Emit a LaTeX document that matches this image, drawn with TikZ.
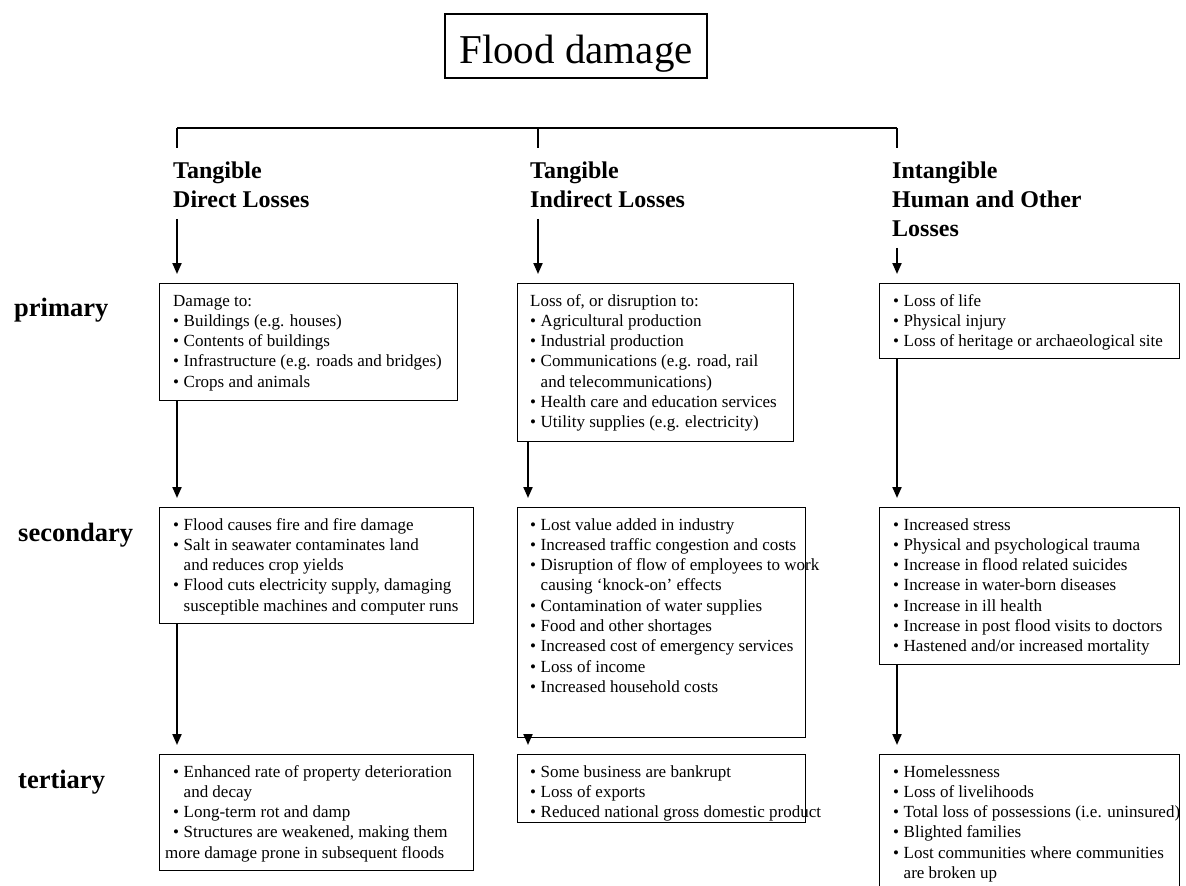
\documentclass[tikz,border=0pt]{standalone}
\usepackage{fontspec}
\setmainfont{Liberation Serif}
\usetikzlibrary{arrows.meta}
\newcommand\bu{\makebox[10.5pt][l]{\textbullet}}
\newcommand\ct{\hspace*{10.5pt}}
\newcommand\lines[1]{\begin{tabular}[t]{@{}l@{}}#1\end{tabular}}
\begin{document}
\begin{tikzpicture}[x=1pt,y=-1pt,
  box/.style={draw, line width=1.1pt, inner sep=0pt, anchor=north west},
  txt/.style={anchor=base west, inner sep=0pt, font=\fontsize{17}{20.3}\selectfont},
  head/.style={anchor=base west, inner sep=0pt, font=\fontsize{24}{29}\selectfont\bfseries},
  rowlab/.style={anchor=base west, inner sep=0pt, font=\fontsize{26.5}{30}\selectfont\bfseries},
  arr/.style={line width=2pt, -{Triangle[length=11pt,width=9pt]}, shorten >=9pt},
  bar/.style={line width=1.5pt}]
\useasboundingbox (0,0) rectangle (1186,886);

% title
\node[draw, line width=1.1pt, anchor=base, inner sep=0pt, minimum width=262pt,
      text height=49pt, text depth=15pt, font=\fontsize{41}{48}\selectfont]
      (title) at (576,63) {Flood damage};

% bar
\coordinate (b1) at (177,128);
\coordinate (b2) at (538,128);
\coordinate (b3) at (897,128);
\coordinate (c2) at (528,128);

% headers
\node[head] (h1) at (173,178) {\lines{Tangible\\Direct Losses}};
\node[head] (h2) at (530,178) {\lines{Tangible\\Indirect Losses}};
\node[head] (h3) at (892,178) {\lines{Intangible\\Human and Other\\Losses}};

\draw[bar] (b1) -- (b3);
\draw[bar, shorten >=10pt] (b1) -- (h1.north -| b1);
\draw[bar, shorten >=10pt] (b2) -- (h2.north -| b2);
\draw[bar, shorten >=10pt] (b3) -- (h3.north -| b3);

% row labels
\node[rowlab] (rp) at (14,316) {primary};
\node[rowlab] (rs) at (18,541) {secondary};
\node[rowlab] (rt) at (18,788) {tertiary};

% primary boxes
\node[box, minimum width=298pt, minimum height=117pt] (p1) at (159,283) {};
\node[box, minimum width=276pt, minimum height=158pt] (p2) at (517,283) {};
\node[box, minimum width=300pt, minimum height=75pt]  (p3) at (879,283) {};

\node[txt] (p1t) at (173,306) {\lines{Damage to:\\
\bu Buildings (e.g. houses)\\
\bu Contents of buildings\\
\bu Infrastructure (e.g. roads and bridges)\\
\bu Crops and animals}};
\node[txt] (p2t) at (530,306) {\lines{Loss of, or disruption to:\\
\bu Agricultural production\\
\bu Industrial production\\
\bu Communications (e.g. road, rail\\
\ct and telecommunications)\\
\bu Health care and education services\\
\bu Utility supplies (e.g. electricity)}};
\node[txt] (p3t) at (893,306) {\lines{\bu Loss of life\\
\bu Physical injury\\
\bu Loss of heritage or archaeological site}};

% secondary boxes
\node[box, minimum width=314pt, minimum height=116pt] (s1) at (159,507) {};
\node[box, minimum width=288pt, minimum height=230pt] (s2) at (517,507) {};
\node[box, minimum width=300pt, minimum height=157pt] (s3) at (879,507) {};

\node[txt] (s1t) at (173,530) {\lines{\bu Flood causes fire and fire damage\\
\bu Salt in seawater contaminates land\\
\ct and reduces crop yields\\
\bu Flood cuts electricity supply, damaging\\
\ct susceptible machines and computer runs}};
\node[txt] (s2t) at (530,530) {\lines{\bu Lost value added in industry\\
\bu Increased traffic congestion and costs\\
\bu Disruption of flow of employees to work\\
\ct causing ‘knock-on’ effects\\
\bu Contamination of water supplies\\
\bu Food and other shortages\\
\bu Increased cost of emergency services\\
\bu Loss of income\\
\bu Increased household costs}};
\node[txt] (s3t) at (893,530) {\lines{\bu Increased stress\\
\bu Physical and psychological trauma\\
\bu Increase in flood related suicides\\
\bu Increase in water-born diseases\\
\bu Increase in ill health\\
\bu Increase in post flood visits to doctors\\
\bu Hastened and/or increased mortality}};

% tertiary boxes
\node[box, minimum width=314pt, minimum height=116pt] (t1) at (159,754) {};
\node[box, minimum width=288pt, minimum height=68pt]  (t2) at (517,754) {};
\node[box, minimum width=300pt, minimum height=160pt] (t3) at (879,754) {};

\node[txt] (t1t) at (173,777) {\lines{\bu Enhanced rate of property deterioration\\
\ct and decay\\
\bu Long-term rot and damp\\
\bu Structures are weakened, making them\\
\hspace*{-8pt}more damage prone in subsequent floods}};
\node[txt] (t2t) at (530,777) {\lines{\bu Some business are bankrupt\\
\bu Loss of exports\\
\bu Reduced national gross domestic product}};
\node[txt] (t3t) at (893,777) {\lines{\bu Homelessness\\
\bu Loss of livelihoods\\
\bu Total loss of possessions (i.e. uninsured)\\
\bu Blighted families\\
\bu Lost communities where communities\\
\ct are broken up}};

% arrows
\draw[arr, shorten <=3pt] (h1.south -| b1) -- (p1.north -| b1);
\draw[arr, shorten <=3pt] (h2.south -| b2) -- (p2.north -| b2);
\draw[arr, shorten <=3pt] (h3.south -| b3) -- (p3.north -| b3);

\draw[arr] (p1.south -| b1) -- (s1.north -| b1);
\draw[arr] (p2.south -| c2) -- (s2.north -| c2);
\draw[arr] (p3.south -| b3) -- (s3.north -| b3);

\draw[arr] (s1.south -| b1) -- (t1.north -| b1);
\draw[arr] (s2.south -| c2) -- (t2.north -| c2);
\draw[arr] (s3.south -| b3) -- (t3.north -| b3);
\end{tikzpicture}
\end{document}
